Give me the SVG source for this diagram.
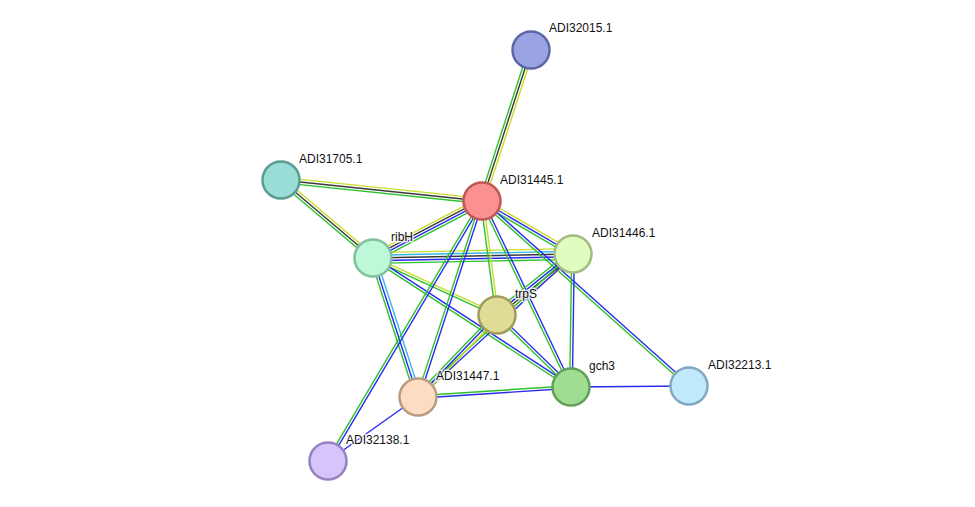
<svg xmlns="http://www.w3.org/2000/svg" width="975" height="507" viewBox="0 0 975 507">
<style>
line{stroke-width:1.4;fill:none}
.y{stroke:#c8dc28}.k{stroke:#3a3a3a}.g{stroke:#2cc22c}.b{stroke:#2a2af0}.c{stroke:#35b8e8}
circle{stroke-width:2.5}
text{font-family:"Liberation Sans",Arial,sans-serif;font-size:12px;fill:#111;stroke:#fff;stroke-width:3;stroke-opacity:0.8;paint-order:stroke;stroke-linejoin:round}
</style>
<rect width="975" height="507" fill="#fff"/>
<g id="edges">
<g transform="translate(482,201) rotate(-72.02)"><line class="g" x1="0" y1="-2.6" x2="158.75" y2="-2.6"/><line class="k" x1="0" y1="0" x2="158.75" y2="0"/><line class="y" x1="0" y1="2.6" x2="158.75" y2="2.6"/></g>
<g transform="translate(281,180) rotate(5.96)"><line class="y" x1="0" y1="-2.6" x2="202.1" y2="-2.6"/><line class="k" x1="0" y1="0" x2="202.1" y2="0"/><line class="g" x1="0" y1="2.6" x2="202.1" y2="2.6"/></g>
<g transform="translate(281,180) rotate(40.29)"><line class="y" x1="0" y1="-2.6" x2="120.6" y2="-2.6"/><line class="k" x1="0" y1="0" x2="120.6" y2="0"/><line class="g" x1="0" y1="2.6" x2="120.6" y2="2.6"/></g>
<g transform="translate(373,258) rotate(-27.61)"><line class="y" x1="0" y1="-3.9" x2="123" y2="-3.9"/><line class="k" x1="0" y1="-1.3" x2="123" y2="-1.3"/><line class="b" x1="0" y1="1.3" x2="123" y2="1.3"/><line class="g" x1="0" y1="3.9" x2="123" y2="3.9"/></g>
<g transform="translate(373,258) rotate(-1.146)"><line class="y" x1="0" y1="-5.4" x2="200" y2="-5.4"/><line class="c" x1="0" y1="-2.7" x2="200" y2="-2.7"/><line class="k" x1="0" y1="0" x2="200" y2="0"/><line class="b" x1="0" y1="2.7" x2="200" y2="2.7"/><line class="g" x1="0" y1="5.4" x2="200" y2="5.4"/></g>
<g transform="translate(373,258) rotate(24.69)"><line class="y" x1="0" y1="-1.3" x2="136.5" y2="-1.3"/><line class="g" x1="0" y1="1.3" x2="136.5" y2="1.3"/></g>
<g transform="translate(373,258) rotate(33.08)"><line class="b" x1="0" y1="-1.3" x2="236.3" y2="-1.3"/><line class="g" x1="0" y1="1.3" x2="236.3" y2="1.3"/></g>
<g transform="translate(373,258) rotate(72.06)"><line class="c" x1="0" y1="-3" x2="146.1" y2="-3"/><line class="b" x1="0" y1="0" x2="146.1" y2="0"/><line class="g" x1="0" y1="2.6" x2="146.1" y2="2.6"/></g>
<g transform="translate(482,201) rotate(30.22)"><line class="y" x1="0" y1="-2.6" x2="105.3" y2="-2.6"/><line class="b" x1="0" y1="0" x2="105.3" y2="0"/><line class="g" x1="0" y1="2.6" x2="105.3" y2="2.6"/></g>
<g transform="translate(482,201) rotate(82.5)"><line class="y" x1="0" y1="-1.3" x2="115" y2="-1.3"/><line class="g" x1="0" y1="1.3" x2="115" y2="1.3"/></g>
<g transform="translate(482,201) rotate(64.43)"><line class="b" x1="0" y1="-1.3" x2="206.2" y2="-1.3"/><line class="g" x1="0" y1="1.3" x2="206.2" y2="1.3"/></g>
<g transform="translate(482,201) rotate(41.79)"><line class="b" x1="0" y1="-1.3" x2="277.6" y2="-1.3"/><line class="g" x1="0" y1="1.3" x2="277.6" y2="1.3"/></g>
<g transform="translate(482,201) rotate(108.08)"><line class="b" x1="0" y1="-1.3" x2="206.2" y2="-1.3"/><line class="g" x1="0" y1="1.3" x2="206.2" y2="1.3"/></g>
<g transform="translate(482,201) rotate(120.64)"><line class="b" x1="0" y1="-1.3" x2="302.2" y2="-1.3"/><line class="g" x1="0" y1="1.3" x2="302.2" y2="1.3"/></g>
<g transform="translate(573,254) rotate(141.25)"><line class="y" x1="0" y1="-3.9" x2="97.45" y2="-3.9"/><line class="k" x1="0" y1="-1.3" x2="97.45" y2="-1.3"/><line class="b" x1="0" y1="1.3" x2="97.45" y2="1.3"/><line class="g" x1="0" y1="3.9" x2="97.45" y2="3.9"/></g>
<g transform="translate(573,254) rotate(90.86)"><line class="b" x1="0" y1="-1.3" x2="133" y2="-1.3"/><line class="g" x1="0" y1="1.3" x2="133" y2="1.3"/></g>
<g transform="translate(573,254) rotate(137.3)"><line class="b" x1="0" y1="-1.3" x2="210.9" y2="-1.3"/><line class="g" x1="0" y1="1.3" x2="210.9" y2="1.3"/></g>
<g transform="translate(497,315) rotate(44.22)"><line class="b" x1="0" y1="-1.3" x2="103.2" y2="-1.3"/><line class="g" x1="0" y1="1.3" x2="103.2" y2="1.3"/></g>
<g transform="translate(497,315) rotate(133.93)"><line class="y" x1="0" y1="-2.6" x2="113.9" y2="-2.6"/><line class="b" x1="0" y1="0" x2="113.9" y2="0"/><line class="g" x1="0" y1="2.6" x2="113.9" y2="2.6"/></g>
<g transform="translate(418,397) rotate(-3.74)"><line class="g" x1="0" y1="-1.3" x2="153.3" y2="-1.3"/><line class="b" x1="0" y1="1.3" x2="153.3" y2="1.3"/></g>
<line class="b" x1="418" y1="397" x2="328" y2="461"/>
<line class="b" x1="571" y1="387" x2="689" y2="386"/>
</g>
<g id="ADI32015.1"><circle cx="531" cy="50" r="18.5" fill="#9ba4e2" stroke="#5d66a6"/><text x="549" y="32">ADI32015.1</text></g>
<g id="ADI31445.1"><circle cx="482" cy="201" r="18.5" fill="#fa9090" stroke="#c05858"/><text x="500" y="184">ADI31445.1</text></g>
<g id="ADI31705.1"><circle cx="281" cy="180" r="18.5" fill="#98ded6" stroke="#5a9c94"/><text x="299" y="163">ADI31705.1</text></g>
<g id="ribH"><circle cx="373" cy="258" r="18.5" fill="#bdf9d9" stroke="#80c09c"/><text x="391" y="241">ribH</text></g>
<g id="ADI31446.1"><circle cx="573" cy="254" r="18.5" fill="#e1fcc1" stroke="#a2bc82"/><text x="592" y="237">ADI31446.1</text></g>
<g id="trpS"><circle cx="497" cy="315" r="18.5" fill="#dedc97" stroke="#a29c5c"/><text x="515" y="298">trpS</text></g>
<g id="gch3"><circle cx="571" cy="387" r="18.5" fill="#9fdd93" stroke="#62a05a"/><text x="589" y="370">gch3</text></g>
<g id="ADI32213.1"><circle cx="689" cy="386" r="18.5" fill="#c1e9fc" stroke="#82a8c0"/><text x="708" y="369">ADI32213.1</text></g>
<g id="ADI31447.1"><circle cx="418" cy="397" r="18.5" fill="#fddcc1" stroke="#b89c80"/><text x="436" y="380">ADI31447.1</text></g>
<g id="ADI32138.1"><circle cx="328" cy="461" r="18.5" fill="#d6c4fc" stroke="#9682c2"/><text x="346" y="444">ADI32138.1</text></g>
</svg>
